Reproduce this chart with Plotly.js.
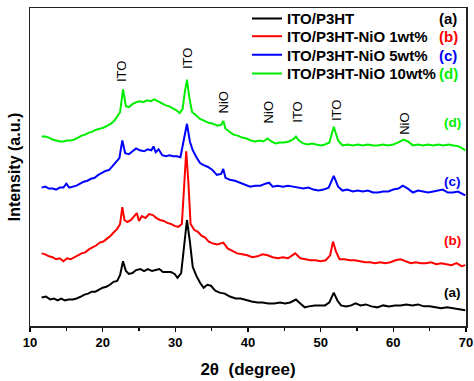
<!DOCTYPE html>
<html><head><meta charset="utf-8">
<script src="https://cdn.plot.ly/plotly-3.0.1.min.js"></script>
<style>html,body{margin:0;padding:0;background:#fff}</style>
</head><body>
<div id="chart" style="width:474px;height:381px"></div>
<script>
const seriesNames = ["ITO/P3HT", "ITO/P3HT-NiO 1wt%", "ITO/P3HT-NiO 5wt%", "ITO/P3HT-NiO 10wt%"];
const seriesTags = ["(a)", "(b)", "(c)", "(d)"];
const seriesColors = ["#000000", "#ff0000", "#0000ff", "#00ee00"];

const xA = [11.6,12.2,12.8,13.3,13.8,14.3,14.8,15.3,15.9,16.4,17.0,17.5,18.0,18.5,19.0,19.5,20.0,20.5,21.0,21.5,22.0,22.4,22.8,23.2,23.6,24.1,24.6,25.2,25.7,26.2,26.8,27.3,27.8,28.3,28.8,29.4,29.9,30.3,30.8,31.2,31.6,32.0,32.4,32.9,33.4,33.9,34.4,34.9,35.5,36.1,36.8,37.5,38.3,39.0,39.8,40.5,41.3,42.0,42.8,43.6,44.4,45.1,45.8,46.6,47.2,47.8,48.4,49.2,49.9,50.6,51.2,51.8,52.3,52.8,53.5,54.2,54.8,55.5,56.2,57.0,57.8,58.6,59.4,60.2,61.0,61.8,62.6,63.4,64.2,65.0,65.8,66.6,67.4,68.2,69.0,69.9];
const yA = [29,30,27,28,26,28,26,27,27,28,30,32,33,35,35,37,39,40,42,45,46,52,66,56,53,54,57,58,56,58,56,57,58,55,55,55,53,49,54,81,108,86,60,51,44,39,42,41,36,34,33,30,28,28,26,25,24,24,23,23,24,23,24,27,23,19,20,21,21,21,24,34,26,21,20,21,23,21,22,20,19,21,20,21,21,22,21,22,20,20,19,18,19,18,17,16];

const xB = [11.6,12.1,12.6,13.1,13.6,14.1,14.6,15.1,15.6,16.1,16.6,17.1,17.6,18.1,18.6,19.1,19.6,20.1,20.6,21.1,21.6,22.0,22.4,22.7,23.0,23.4,23.9,24.4,24.7,25.0,25.4,25.9,26.4,26.9,27.4,27.9,28.4,28.9,29.4,29.9,30.4,30.9,31.2,31.5,31.8,32.1,32.6,33.1,33.6,34.1,34.6,35.2,35.8,36.6,37.2,37.9,38.5,39.2,39.9,40.6,41.3,42.0,42.7,43.4,44.1,44.8,45.5,46.5,47.2,47.9,48.6,49.3,50.0,50.7,51.3,51.7,52.1,52.6,53.3,54.0,54.7,55.4,56.1,56.8,57.5,58.2,58.9,59.6,60.3,61.0,61.7,62.4,63.1,63.8,64.5,65.2,65.9,66.6,67.3,68.0,68.7,69.4,69.9];
const yB = [74,73,71,70,68,69,66,69,68,70,72,74,75,78,80,82,85,86,89,92,96,99,104,121,108,106,108,112,115,107,112,110,114,113,110,108,107,105,104,102,101,104,136,178,146,104,98,96,92,90,86,84,83,85,79,76,74,73,72,70,71,73,72,70,69,70,69,74,69,68,67,67,66,67,72,86,76,68,68,67,67,66,65,65,64,65,64,65,67,68,66,64,65,64,64,65,63,64,63,62,64,61,62];

const xC = [11.6,12.1,12.6,13.1,13.6,14.1,14.6,15.0,15.4,15.9,16.4,16.9,17.4,17.9,18.4,18.9,19.4,19.9,20.4,20.9,21.4,21.9,22.3,22.7,23.1,23.6,24.1,24.6,25.1,25.7,26.2,26.7,27.0,27.3,27.7,28.2,28.7,29.2,29.7,30.2,30.7,31.1,31.6,32.0,32.4,32.9,33.4,33.9,34.5,35.1,35.7,36.3,36.6,36.9,37.5,38.2,38.9,39.6,40.3,41.0,41.7,42.4,42.9,43.4,44.1,44.8,45.5,46.2,46.9,47.6,48.3,49.0,49.7,50.4,51.1,51.8,52.4,53.0,53.7,54.4,55.1,55.8,56.5,57.2,57.9,58.6,59.3,60.0,60.7,61.3,62.0,62.7,63.4,64.1,64.8,65.5,66.2,66.8,67.5,68.2,68.9,69.5,69.9];
const yC = [141,142,140,140,139,141,141,145,141,142,143,145,147,148,150,151,154,156,158,159,163,167,171,189,176,175,178,181,179,178,180,179,183,177,180,174,173,174,173,173,172,186,206,188,179,172,166,164,162,159,154,155,160,151,149,148,146,144,142,143,143,145,146,142,143,142,143,142,141,140,141,139,138,139,141,153,142,138,139,137,138,137,138,136,136,137,137,139,140,143,140,136,138,137,136,137,138,139,136,136,137,135,133];

const xD = [11.6,12.1,12.6,13.1,13.6,14.1,14.6,15.1,15.6,16.1,16.6,17.1,17.6,18.1,18.6,19.1,19.6,20.1,20.6,21.1,21.6,22.0,22.4,22.8,23.2,23.6,24.1,24.6,25.1,25.6,26.1,26.6,27.1,27.6,28.1,28.6,29.1,29.6,30.1,30.6,31.0,31.3,31.6,31.9,32.3,32.8,33.4,34.0,34.6,35.2,35.8,36.3,36.6,36.9,37.4,38.0,38.6,39.2,39.8,40.4,41.0,41.6,42.1,42.7,43.2,43.8,44.4,45.0,45.6,46.2,46.6,47.0,47.6,48.2,48.8,49.4,50.0,50.6,51.2,51.8,52.4,53.0,53.7,54.4,55.1,55.8,56.5,57.2,57.9,58.6,59.3,60.0,60.7,61.4,62.0,62.7,63.4,64.1,64.8,65.5,66.2,66.9,67.6,68.3,69.0,69.5,69.9];
const yD = [193,193,192,190,189,188,188,189,189,190,192,194,195,197,198,200,201,202,204,206,209,213,218,241,224,223,226,228,229,228,230,229,231,229,227,225,224,222,220,217,221,238,251,234,218,215,211,209,207,206,204,205,209,201,198,195,194,192,191,189,188,189,188,191,188,186,187,187,188,190,193,189,186,185,186,185,184,185,187,203,189,184,185,184,185,184,185,184,184,185,184,185,187,190,188,184,185,184,185,184,185,184,185,184,183,181,179];

const xTickVals = [10,20,30,40,50,60,70];
const xTickText = ["10","20","30","40","50","60","70"];

const peakLabels = ["ITO","ITO","NiO","NiO","ITO","ITO","NiO"];
const peakX = [22.7,31.6,36.6,42.8,46.7,52.1,61.6];
const peakY = [259,273,228,218,218,220,206];

const xs = [xA,xB,xC,xD], ys = [yA,yB,yC,yD];
const FONT = "Liberation Sans, Arial, sans-serif";
const legendIds = ["legend", "legend2", "legend3", "legend4"];
const legendRowsPx = [13, 31, 50, 69];

const traces = seriesNames.map((n,i)=>({
  x: xs[i], y: ys[i], type: "scatter", mode: "lines", name: n,
  legend: legendIds[i],
  line: {color: seriesColors[i], width: 2}
}));

const annotations = [];
peakLabels.forEach((t,i)=>annotations.push({
  x: peakX[i], y: peakY[i], xref: "x", yref: "y", text: t, showarrow: false,
  xanchor: "center", yanchor: "middle",
  textangle: -90, font: {family: FONT, size: 13, color: "#000"}
}));
const tagY = [34, 87, 147, 207];
seriesTags.forEach((t,i)=>annotations.push({
  x: (452-30)/436, y: tagY[i]/324, xref: "paper", yref: "paper", text: "<b>"+t+"</b>", showarrow: false,
  xanchor: "center", yanchor: "middle",
  font: {family: FONT, size: 13.5, color: seriesColors[i]}
}));
seriesTags.forEach((t,i)=>annotations.push({
  x: (448-30)/436, y: (326-legendRowsPx[i])/324, xref: "paper", yref: "paper", text: "<b>"+t+"</b>", showarrow: false,
  xanchor: "center", yanchor: "middle",
  font: {family: FONT, size: 15, color: seriesColors[i]}
}));

const layout = {
  width: 474, height: 381,
  margin: {l: 30, r: 8, t: 2, b: 55},
  paper_bgcolor: "#fff", plot_bgcolor: "#fff",
  font: {family: FONT, color: "#000"},
  showlegend: true,
  xaxis: {
    range: [10, 70], tickvals: xTickVals, ticktext: xTickText,
    ticks: "outside", ticklen: 4, tickwidth: 1.5, tickcolor: "#000",
    minor: {dtick: 5, tick0: 15, ticks: "outside", ticklen: 3, tickwidth: 1.5, tickcolor: "#000"},
    showline: true, mirror: true, linecolor: "#222", linewidth: 1.5,
    showgrid: false, zeroline: false,
    tickfont: {family: FONT, size: 13, color: "#000", weight: "bold"},
    title: {text: "<b>2θ  (degree)</b>", font: {family: FONT, size: 17, color: "#000"}, standoff: 14}
  },
  yaxis: {
    range: [0, 324], showticklabels: false, ticks: "",
    showline: true, mirror: true, linecolor: "#222", linewidth: 1.5,
    showgrid: false, zeroline: false,
    title: {text: "<b>Intensity (a.u.)</b>", font: {family: FONT, size: 16, color: "#000"}, standoff: 4}
  },
  annotations: annotations
};
legendIds.forEach((id,i)=>{
  layout[id] = {x: (247-30)/436, y: (326-legendRowsPx[i])/324, xanchor: "left", yanchor: "middle",
    bgcolor: "rgba(0,0,0,0)", borderwidth: 0,
    font: {family: FONT, size: 15, color: "#000", weight: "bold"}};
});

Plotly.newPlot("chart", traces, layout, {displayModeBar: false, staticPlot: true});
</script>
</body></html>
